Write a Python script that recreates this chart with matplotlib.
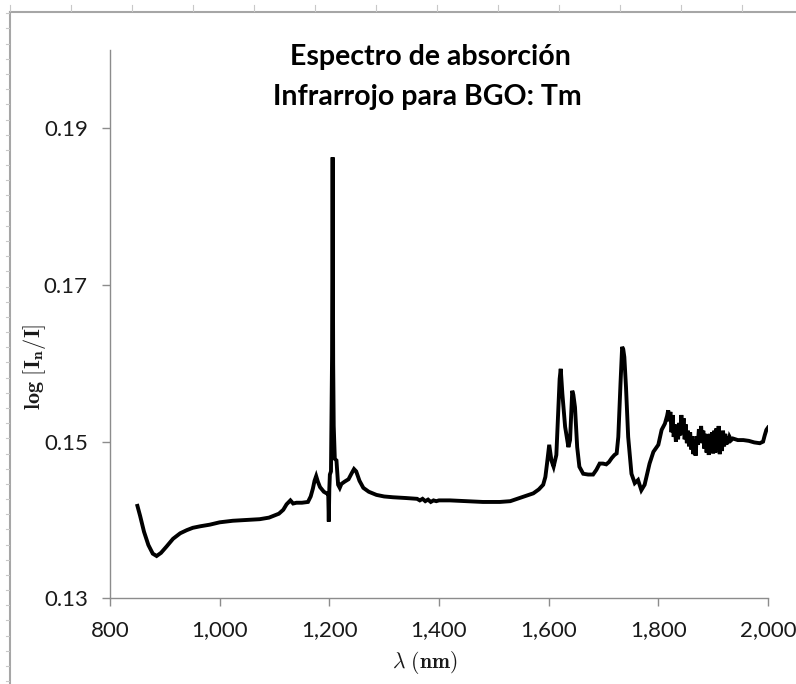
import matplotlib
matplotlib.use("Agg")
import matplotlib.pyplot as plt
from matplotlib.lines import Line2D
from matplotlib.ticker import FixedLocator, FuncFormatter

plt.rcParams['mathtext.fontset'] = 'cm'

# ---------------- data ----------------
title_lines = ["Espectro de absorción", "Infrarrojo para BGO: Tm"]
x_ticks = [800, 1000, 1200, 1400, 1600, 1800, 2000]
y_ticks = [0.13, 0.15, 0.17, 0.19]

wavelength = [
    850, 855, 862, 870, 878, 885, 893, 903, 915, 928, 940, 951, 965, 982, 1000,
    1024, 1050, 1073, 1090, 1097, 1108, 1116, 1122, 1129, 1134, 1140, 1150, 1161,
    1166, 1170, 1173, 1176, 1179, 1183, 1190, 1195, 1198, 1199, 1200, 1201, 1203,
    1205, 1206, 1207, 1208, 1210, 1213, 1216, 1219, 1222, 1228, 1235, 1241, 1245,
    1249, 1255, 1262, 1272, 1286, 1300, 1316, 1340, 1360, 1365, 1370, 1375, 1380,
    1385, 1390, 1395, 1400, 1420, 1450, 1480, 1511, 1530, 1547, 1560, 1572, 1582,
    1590, 1594, 1597, 1601, 1605, 1609, 1614, 1618, 1620, 1622, 1625, 1630, 1636,
    1639, 1642, 1643, 1645, 1648, 1652, 1656, 1663, 1672, 1681, 1687, 1693, 1699,
    1705, 1710, 1715, 1720, 1724, 1727, 1731, 1734, 1736, 1738, 1741, 1745, 1751,
    1757, 1763, 1769, 1775, 1784, 1791, 1800, 1806, 1812, 1816, 1818,
    1820, 1822, 1824, 1826, 1828, 1830, 1832, 1834, 1836, 1838, 1840, 1842, 1844,
    1846, 1848, 1850, 1852, 1854, 1856, 1858, 1860, 1862, 1864, 1866, 1868, 1870,
    1872, 1874, 1876, 1878, 1880, 1882, 1884, 1886, 1888, 1890, 1892, 1894, 1896,
    1898, 1900, 1902, 1904, 1906, 1908, 1910, 1912, 1914, 1916, 1918, 1920, 1922,
    1924, 1926, 1928, 1930, 1933, 1936, 1945, 1955, 1965, 1975, 1985, 1991, 1994,
    1997, 2000,
]

absorbance = [
    0.1418, 0.1405, 0.1385, 0.1368, 0.1357, 0.1354, 0.1358, 0.1366, 0.1376, 0.1383,
    0.1387, 0.1390, 0.1392, 0.1394, 0.1397, 0.1399, 0.1400, 0.1401, 0.1403, 0.1405,
    0.1408, 0.1413, 0.1420, 0.1425, 0.1421, 0.1422, 0.1422, 0.1423, 0.1430, 0.1440,
    0.1450, 0.1456, 0.1449, 0.1442, 0.1436, 0.1434, 0.1433, 0.1398, 0.1440, 0.1458,
    0.1462, 0.1610, 0.1863, 0.1600, 0.1520, 0.1478, 0.1476, 0.1445, 0.1441, 0.1446,
    0.1449, 0.1452, 0.1460, 0.1465, 0.1462, 0.1450, 0.1441, 0.1436, 0.1432, 0.1430,
    0.1429, 0.1428, 0.1427, 0.1425, 0.1427, 0.1424, 0.1426, 0.1423, 0.1425, 0.1424,
    0.1425, 0.1425, 0.1424, 0.1423, 0.1423, 0.1424, 0.1428, 0.1431, 0.1434, 0.1439,
    0.1445, 0.1455, 0.1472, 0.1496, 0.1476, 0.1468, 0.1483, 0.1549, 0.1580, 0.1593,
    0.1561, 0.1519, 0.1493, 0.1502, 0.1549, 0.1565, 0.1560, 0.1544, 0.1493, 0.1468,
    0.1459, 0.1458, 0.1458, 0.1464, 0.1472, 0.1472, 0.1471, 0.1474, 0.1479, 0.1483,
    0.1485, 0.1506, 0.1574, 0.1621, 0.1618, 0.1608, 0.1570, 0.1506, 0.1459, 0.1447,
    0.1451, 0.1438, 0.1445, 0.1472, 0.1487, 0.1496, 0.1515, 0.1523, 0.1533, 0.1540,
    0.1526, 0.1538, 0.1512, 0.1534, 0.1506, 0.1522, 0.1500, 0.1518, 0.1503, 0.1524,
    0.1508, 0.1534, 0.1510, 0.1530, 0.1503, 0.1522, 0.1498, 0.1514, 0.1494, 0.1512,
    0.1490, 0.1507, 0.1484, 0.1502, 0.1482, 0.1507, 0.1496, 0.1516, 0.1500, 0.1520,
    0.1498, 0.1514, 0.1491, 0.1510, 0.1486, 0.1504, 0.1483, 0.1510, 0.1490, 0.1512,
    0.1485, 0.1514, 0.1486, 0.1517, 0.1490, 0.1520, 0.1484, 0.1512, 0.1488, 0.1514,
    0.1494, 0.1510, 0.1496, 0.1507, 0.1498, 0.1506, 0.1502, 0.1504, 0.1502, 0.1502,
    0.1501, 0.1499, 0.1498, 0.1500, 0.1508, 0.1515, 0.1518,
]

# ---------------- figure ----------------
W, H = 796, 684
fig = plt.figure(figsize=(W / 100, H / 100), dpi=100)
fig.patch.set_facecolor('white')

def fx(px):
    return px / W

def fy(py):
    return 1 - py / H

ax_l, ax_r, ax_t, ax_b = 110, 768, 50, 598.3
ax = fig.add_axes([fx(ax_l), fy(ax_b), (ax_r - ax_l) / W, (ax_b - ax_t) / H])

ax.plot(wavelength, absorbance, color='black', lw=2.8, solid_joinstyle='miter')

ax.set_xlim(800, 2000)
ax.set_ylim(0.13, 0.20)

ax.xaxis.set_major_locator(FixedLocator(x_ticks))
ax.yaxis.set_major_locator(FixedLocator(y_ticks))
ax.xaxis.set_major_formatter(FuncFormatter(lambda v, p: f"{int(v):,}"))
ax.yaxis.set_major_formatter(FuncFormatter(lambda v, p: f"{v:.2f}"))

axis_col = '#8c8c8c'
for s in ['top', 'right']:
    ax.spines[s].set_visible(False)
for s in ['left', 'bottom']:
    ax.spines[s].set_color(axis_col)
    ax.spines[s].set_linewidth(1.0)

ax.tick_params(axis='both', direction='out', length=6, width=1.0, color=axis_col,
               labelcolor='#1a1a1a', labelsize=16)
ax.tick_params(axis='x', pad=10)
ax.tick_params(axis='y', pad=10)
for lab in ax.get_xticklabels() + ax.get_yticklabels():
    lab.set_family('Lato')

# title
fig.text(fx(430), fy(57), title_lines[0], ha='center', va='center',
         family='Lato', fontweight='bold', fontsize=20.5, color='black')
fig.text(fx(427), fy(97), title_lines[1], ha='center', va='center',
         family='Lato', fontweight='bold', fontsize=20.5, color='black')

# axis labels
fig.text(fx(34), fy(367), r'$\mathbf{log\ [I_n/I]}$', rotation=90,
         ha='center', va='center', fontsize=16, color='#1a1a1a')
fig.text(fx(425), fy(663), r'$\lambda\ \mathbf{(nm)}$',
         ha='center', va='center', fontsize=15.5, color='#1a1a1a')

# outer frame (screenshot border) and ruler marks
frame_col = '#a6a6a6'
fig.add_artist(Line2D([fx(9.5), fx(796)], [fy(11.5), fy(11.5)], color=frame_col, lw=1.5))
fig.add_artist(Line2D([fx(9.5), fx(9.5)], [fy(11.5), fy(684)], color=frame_col, lw=1.5))
px = 10
while px < W:
    fig.add_artist(Line2D([fx(px), fx(px)], [fy(5), fy(11)], color='#c8c8c8', lw=0.8))
    px += 61
py = 13.3
while py < H:
    fig.add_artist(Line2D([fx(6), fx(9)], [fy(py), fy(py)], color='#c8c8c8', lw=0.8))
    py += 15.18

fig.savefig('out.png', dpi=100, facecolor='white')
